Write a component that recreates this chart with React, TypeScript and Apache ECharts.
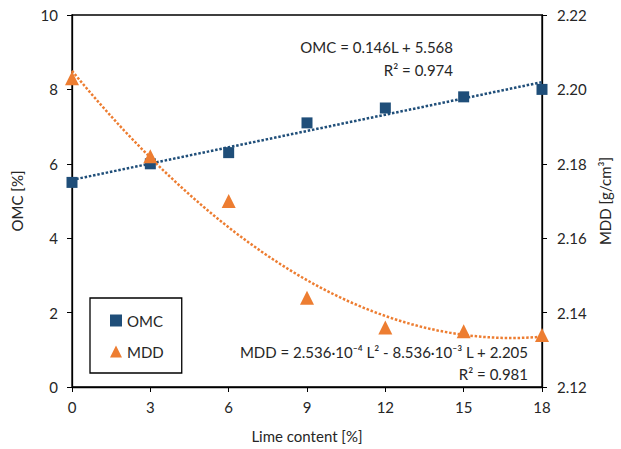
import React, { useEffect, useRef } from "react";
import * as echarts from "echarts";

const limeContent = [0, 3, 6, 9, 12, 15, 18];
const omcValues = [5.5, 6.0, 6.3, 7.1, 7.5, 7.8, 8.0];
const mddValues = [2.203, 2.182, 2.170, 2.144, 2.136, 2.135, 2.134];

// Trendline coefficients as printed on the chart
const omcFit = [5.568, 0.146]; // c0 + c1 L
const mddFit = [2.205, -8.536e-3, 2.536e-4]; // c0 + c1 L + c2 L^2

const omcEquation = "OMC = 0.146L + 5.568";
const omcR2 = "R² = 0.974";
const mddEquation = "MDD = 2.536·10⁻⁴ L² - 8.536·10⁻³ L + 2.205";
const mddR2 = "R² = 0.981";

const BLUE = "#1F4E79";
const ORANGE = "#ED7D31";
const TEXT = "#262626";
const FONT = "Lato, 'Open Sans', sans-serif";
const FS = 15;

function trend(coefs: number[]): number[][] {
  const pts: number[][] = [];
  const step = 0.25;
  const lo = limeContent[0];
  const hi = limeContent[limeContent.length - 1];
  for (let L = lo; L <= hi + 1e-9; L += step) {
    let v = 0;
    coefs.forEach((c, i) => {
      v += c * Math.pow(L, i);
    });
    pts.push([L, v]);
  }
  return pts;
}

export default function App() {
  const ref = useRef<HTMLDivElement>(null);
  useEffect(() => {
    if (!ref.current) return;
    const chart = echarts.init(ref.current, undefined, { renderer: "svg" });
    const axisLine = { show: true, lineStyle: { color: "#000", width: 1.3 } };
    const textStyle = { fontSize: FS, color: TEXT, fontFamily: FONT };
    chart.setOption({
      animation: false,
      textStyle: { fontFamily: FONT },
      grid: {
        left: 72,
        right: 79,
        top: 15,
        bottom: 62,
        show: true,
        borderColor: "#000",
        borderWidth: 1.3,
      },
      xAxis: {
        type: "value",
        min: 0,
        max: 18,
        interval: 3,
        name: "Lime content [%]",
        nameLocation: "middle",
        nameGap: 41,
        nameTextStyle: textStyle,
        axisLine,
        axisTick: { show: true, length: 5, lineStyle: { color: "#000" } },
        axisLabel: { ...textStyle, margin: 12 },
        splitLine: { show: false },
      },
      yAxis: [
        {
          type: "value",
          min: 0,
          max: 10,
          interval: 2,
          position: "left",
          name: "OMC [%]",
          nameLocation: "middle",
          nameGap: 48,
          nameRotate: 90,
          nameTextStyle: textStyle,
          axisLine,
          axisTick: { show: true, length: 5, lineStyle: { color: "#000" } },
          axisLabel: { ...textStyle, margin: 14 },
          splitLine: { show: false },
        },
        {
          type: "value",
          min: 2.12,
          max: 2.22,
          interval: 0.02,
          position: "right",
          name: "MDD [g/cm³]",
          nameLocation: "middle",
          nameGap: 46,
          nameRotate: 90,
          nameTextStyle: textStyle,
          axisLine,
          axisTick: { show: true, length: 5, lineStyle: { color: "#000" } },
          axisLabel: {
            ...textStyle,
            margin: 15,
            formatter: (v: number) => v.toFixed(2),
          },
          splitLine: { show: false },
        },
      ],
      legend: {
        data: [
          { name: "OMC", icon: "rect" },
          { name: "MDD", icon: "triangle" },
        ],
        orient: "vertical",
        left: 90,
        top: 298,
        padding: [15, 18, 14, 20],
        itemGap: 16,
        itemWidth: 12,
        itemHeight: 12,
        borderColor: "#000",
        borderWidth: 1.3,
        textStyle,
      },
      series: [
        {
          name: "OMC trend",
          type: "line",
          data: trend(omcFit),
          yAxisIndex: 0,
          showSymbol: false,
          lineStyle: { color: BLUE, width: 2.5, type: [2.5, 1.8] },
          z: 1,
        },
        {
          name: "MDD trend",
          type: "line",
          data: trend(mddFit),
          yAxisIndex: 1,
          showSymbol: false,
          lineStyle: { color: ORANGE, width: 2.5, type: [2.5, 1.8] },
          z: 1,
        },
        {
          name: "OMC",
          type: "scatter",
          yAxisIndex: 0,
          data: limeContent.map((x, i) => [x, omcValues[i]]),
          symbol: "rect",
          symbolSize: 11,
          itemStyle: { color: BLUE, opacity: 1 },
          z: 3,
        },
        {
          name: "MDD",
          type: "scatter",
          yAxisIndex: 1,
          data: limeContent.map((x, i) => [x, mddValues[i]]),
          symbol: "triangle",
          symbolSize: 14,
          itemStyle: { color: ORANGE, opacity: 1 },
          z: 3,
        },
      ],
      graphic: [
        {
          type: "text",
          x: 453,
          y: 47,
          style: { text: omcEquation, align: "right", verticalAlign: "middle", fontSize: FS, fill: TEXT, fontFamily: FONT },
        },
        {
          type: "text",
          x: 453,
          y: 70,
          style: { text: omcR2, align: "right", verticalAlign: "middle", fontSize: FS, fill: TEXT, fontFamily: FONT },
        },
        {
          type: "text",
          x: 528,
          y: 352,
          style: { text: mddEquation, align: "right", verticalAlign: "middle", fontSize: FS, fill: TEXT, fontFamily: FONT },
        },
        {
          type: "text",
          x: 528,
          y: 374,
          style: { text: mddR2, align: "right", verticalAlign: "middle", fontSize: FS, fill: TEXT, fontFamily: FONT },
        },
      ],
    });
    return () => chart.dispose();
  }, []);
  return <div ref={ref} style={{ width: 621, height: 449, position: "absolute", left: 0, top: 0 }} />;
}
